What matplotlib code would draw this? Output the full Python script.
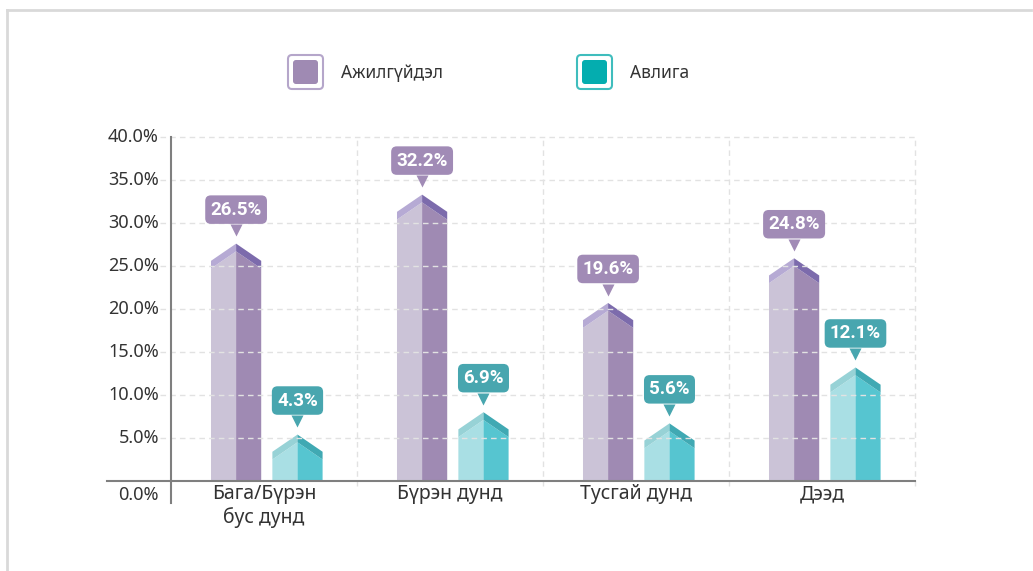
import matplotlib
matplotlib.use('Agg')
import matplotlib.pyplot as plt
from matplotlib.patches import Polygon, FancyBboxPatch
from matplotlib.lines import Line2D
from matplotlib.transforms import offset_copy, IdentityTransform

# data
categories = ['Бага/Бүрэн\nбус дунд', 'Бүрэн дунд', 'Тусгай дунд', 'Дээд']
unemployment = [26.5, 32.2, 19.6, 24.8]
corruption = [4.3, 6.9, 5.6, 12.1]
series_names = ['Ажилгүйдэл', 'Авлига']
y_ticks = [5, 10, 15, 20, 25, 30, 35, 40]

# colours: body light, body dark, roof light, roof dark, label box, legend fill, legend edge
purple = ['#CBC3D7', '#9F8AB3', '#B6AAD4', '#7C6BAC', '#A18BB6', '#9F8AB3', '#B5A6CA']
teal = ['#A9DFE4', '#56C5D0', '#97D2D6', '#40A9B3', '#48A6AF', '#04ADAF', '#3FBDBD']

W, H = 1033, 571
fig = plt.figure(figsize=(W / 100, H / 100), dpi=100)
ax = fig.add_axes([171 / W, 90 / H, (915 - 171) / W, (481 - 137) / H])
ax.set_xlim(0, 4)
ax.set_ylim(0, 40)
ax.axis('off')

BAR_W = 0.27
RISE_UP, RISE_DN, BAND = 1.1, 0.9, 0.9


def draw_bar(xc, v, col):
    x0, x1 = xc - BAR_W / 2, xc + BAR_W / 2
    edge = v - RISE_DN
    peak = v + RISE_UP
    ax.add_patch(Polygon([(x0, 0), (xc, 0), (xc, peak - BAND), (x0, edge - BAND)],
                         closed=True, fc=col[0], ec='none', zorder=2))
    ax.add_patch(Polygon([(xc, 0), (x1, 0), (x1, edge - BAND), (xc, peak - BAND)],
                         closed=True, fc=col[1], ec='none', zorder=2))
    ax.add_patch(Polygon([(x0, edge - BAND), (xc, peak - BAND), (xc, peak), (x0, edge)],
                         closed=True, fc=col[2], ec='none', zorder=2))
    ax.add_patch(Polygon([(xc, peak - BAND), (x1, edge - BAND), (x1, edge), (xc, peak)],
                         closed=True, fc=col[3], ec='none', zorder=2))

    # callout label
    tip_off = 5.5
    ms = 8.0
    tri_tr = offset_copy(ax.transData, fig=fig, y=tip_off + ms / 2, units='points')
    ax.plot([xc], [peak], marker='v', ms=ms, color=col[4], mec='none',
            transform=tri_tr, zorder=5, clip_on=False)
    ax.annotate(f'{v:.1f}%', xy=(xc, peak), xytext=(0, tip_off + 19),
                textcoords='offset points', ha='center', va='center',
                fontsize=13.5, fontweight='bold', family='Roboto', color='white',
                bbox=dict(boxstyle='round,pad=0.28,rounding_size=0.3', fc=col[4], ec='none'),
                zorder=6, annotation_clip=False)


# grid (drawn over the bars)
for t in y_ticks:
    ax.plot([-0.06, 4], [t, t], ls=(0, (4, 3)), lw=1.0, color='#E2E2E2',
            zorder=3, clip_on=False)
for xb in [1, 2, 3, 4]:
    ax.plot([xb, xb], [-0.6, 40], ls=(0, (4, 3)), lw=1.0, color='#E2E2E2',
            zorder=3, clip_on=False)

for i in range(len(categories)):
    draw_bar(i + 0.5 - 0.15, unemployment[i], purple)
    draw_bar(i + 0.5 + 0.18, corruption[i], teal)

# axes lines
ax.plot([-0.344, 4], [0, 0], color='#7F7F7F', lw=1.5, zorder=4, clip_on=False)
ax.plot([0, 0], [-2.6, 40], color='#7F7F7F', lw=1.5, zorder=4, clip_on=False)

# tick labels
tick_font = dict(family='Noto Sans', fontsize=13, color='#333333')
for t in y_ticks:
    ax.text(-0.065, t, f'{t:.1f}%', ha='right', va='center', **tick_font)
ax.text(-0.065, -0.6, '0.0%', ha='right', va='top', **tick_font)
for i, c in enumerate(categories):
    ax.text(i + 0.5, -0.35, c, ha='center', va='top', linespacing=1.2,
            family='Noto Sans', fontsize=14, color='#333333')

# legend
ident = IdentityTransform()
legend_items = [(288, series_names[0], purple), (577, series_names[1], teal)]
for lx, name, col in legend_items:
    top = H - 55
    fig.add_artist(FancyBboxPatch((lx, top - 34), 35, 34,
                                  boxstyle='round,pad=0,rounding_size=4',
                                  fc='white', ec=col[6], lw=1.5, transform=ident))
    fig.add_artist(FancyBboxPatch((lx + 5, top - 29), 25, 24,
                                  boxstyle='round,pad=0,rounding_size=3',
                                  fc=col[5], ec='none', transform=ident))
    fig.text((lx + 53) / W, (top - 18) / H, name, ha='left', va='center',
             family='Noto Sans', fontsize=12.5, color='#333333')

# outer frame
fig.add_artist(Line2D([7 / W, 1031 / W], [1 - 10 / H, 1 - 10 / H], color='#D9D9D9', lw=2,
                      transform=fig.transFigure))
fig.add_artist(Line2D([7 / W, 7 / W], [0, 1 - 10 / H], color='#D9D9D9', lw=2,
                      transform=fig.transFigure))

fig.savefig('out.png', dpi=100)
